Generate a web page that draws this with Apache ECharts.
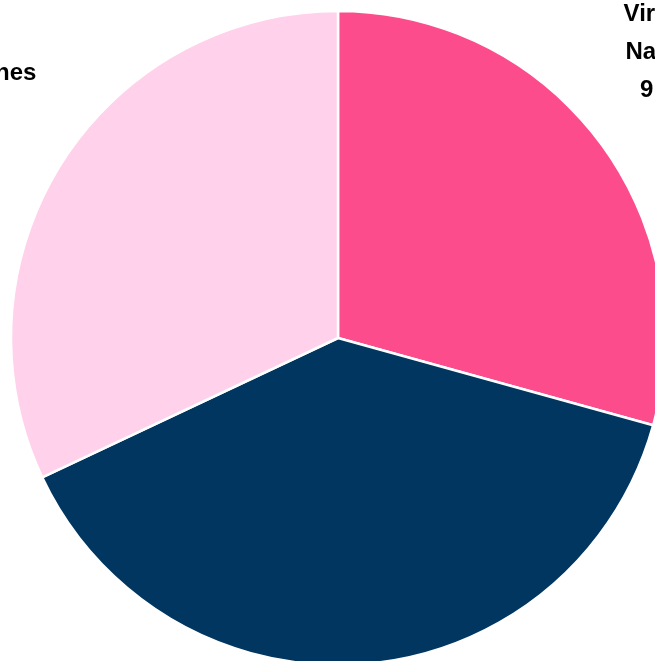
<!DOCTYPE html>
<html><head><meta charset="utf-8">
<script src="https://cdn.jsdelivr.net/npm/echarts@6/dist/echarts.min.js"></script>
<style>html,body{margin:0;padding:0;background:#fff}#c{width:655px;height:661px}</style>
</head><body><div id="c"></div>
<script>
const categories = ["Virgin Islands\nNational Park", "United States", "Other Asia, nes"];
const values = [9.42, 12.44, 10.29];
const valueLabels = ["9.42 billion", "39%", "32%"];
const colors = ["#FC4C8C", "#00365F", "#FFD1EB"];

const cx = 338, cy = 338, R = 327, labelR = 465;
const labelNudge = [[-6, -4], [0, 0], [3, 3.5]];
const total = values.reduce((a, b) => a + b, 0);
const midAngles = [];
let acc = 0;
values.forEach(v => { midAngles.push((acc + v / 2) / total * 2 * Math.PI); acc += v; });

const chart = echarts.init(document.getElementById('c'), null, {renderer: 'canvas'});
chart.setOption({
  animation: false,
  backgroundColor: '#fff',
  series: [{
    type: 'pie',
    center: [cx, cy],
    radius: R,
    startAngle: 90,
    clockwise: true,
    avoidLabelOverlap: false,
    data: categories.map((c, i) => ({name: c, value: values[i], itemStyle: {color: colors[i]}})),
    itemStyle: {borderColor: '#fff', borderWidth: 2.5},
    label: {
      show: true,
      position: 'outside',
      formatter: p => p.name + '\n' + valueLabels[p.dataIndex],
      fontFamily: 'Liberation Sans',
      fontWeight: 'bold',
      fontSize: 24,
      lineHeight: 38,
      color: '#000',
      align: 'center'
    },
    labelLine: {show: false},
    labelLayout: function (params) {
      const i = params.dataIndex;
      const a = midAngles[i];
      return {
        x: cx + labelR * Math.sin(a) + labelNudge[i][0],
        y: cy - labelR * Math.cos(a) + labelNudge[i][1],
        align: 'center',
        verticalAlign: 'middle'
      };
    }
  }]
});
</script></body></html>
